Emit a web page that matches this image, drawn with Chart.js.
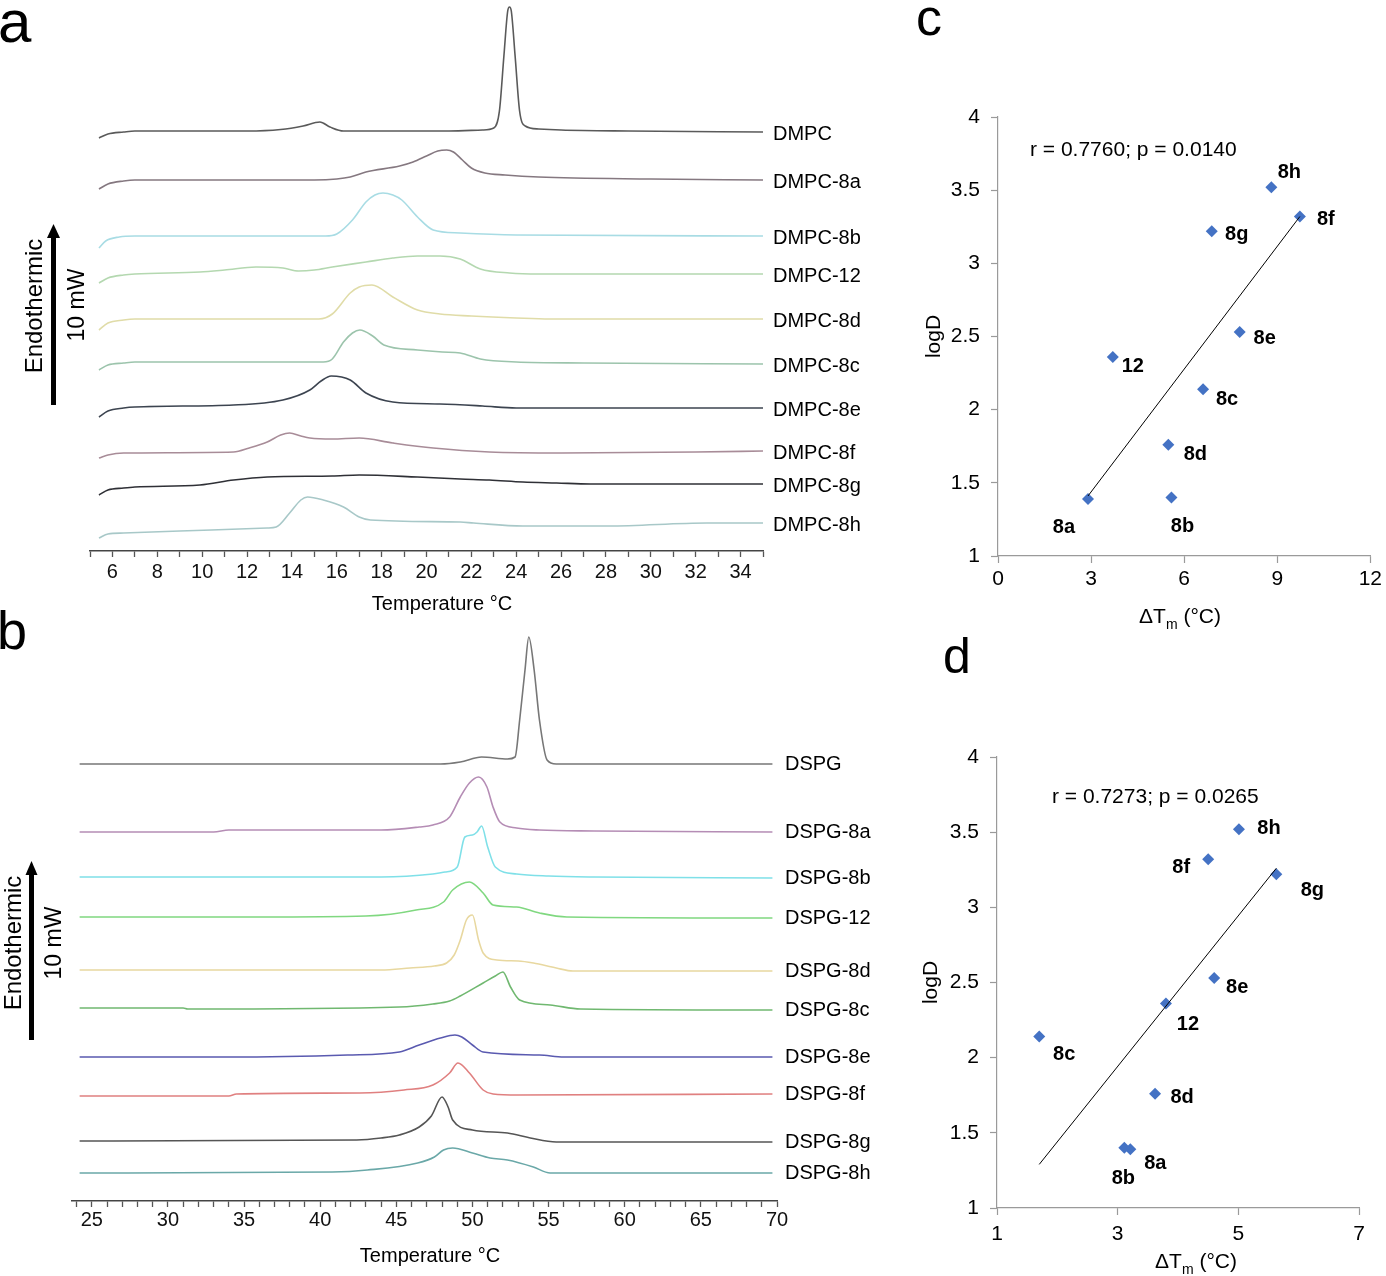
<!DOCTYPE html>
<html>
<head>
<meta charset="utf-8">
<script src="https://cdn.jsdelivr.net/npm/chart.js@4.4.1/dist/chart.umd.min.js"></script>
<style>
  body { margin: 0; background: #fff; width: 1386px; height: 1276px; position: relative; overflow: hidden;
         font-family: "Liberation Sans", Arial, sans-serif; }
  canvas { position: absolute; }
  .t { position: absolute; white-space: nowrap; color: #000; line-height: 1; }
  .c { transform: translate(-50%, -50%); }
  .r { transform: translate(-50%, -50%) rotate(-90deg); }
  .l { transform: translateY(-50%); }
</style>
</head>
<body>
<canvas id="chartA" width="900" height="620" style="left:0;top:0"></canvas>
<canvas id="chartB" width="900" height="640" style="left:0;top:620px"></canvas>
<canvas id="chartC" width="476" height="560" style="left:910px;top:90px"></canvas>
<canvas id="chartD" width="476" height="546" style="left:910px;top:730px"></canvas>

<div class="t" style="left:-2px;top:-8px;font-size:60px">a</div>
<div class="t" style="left:-3px;top:603px;font-size:54px">b</div>
<div class="t" style="left:916px;top:-9px;font-size:52px">c</div>
<div class="t" style="left:943px;top:631px;font-size:50px">d</div>

<svg style="position:absolute;left:0;top:0" width="100" height="1276">
  <line x1="53.5" y1="405" x2="53.5" y2="236" stroke="#000" stroke-width="5"/>
  <polygon points="47,238 60,238 53.5,224" fill="#000"/>
  <line x1="31.5" y1="1040" x2="31.5" y2="873" stroke="#000" stroke-width="5"/>
  <polygon points="25.5,875 37.5,875 31.5,861" fill="#000"/>
</svg>
<div class="t r" style="left:34px;top:306px;font-size:24px">Endothermic</div>
<div class="t r" style="left:76px;top:305px;font-size:23px">10 mW</div>
<div class="t r" style="left:13px;top:943px;font-size:24px">Endothermic</div>
<div class="t r" style="left:53px;top:943px;font-size:23px">10 mW</div>

<div class="t c" style="left:442px;top:603px;font-size:20px">Temperature °C</div>
<div class="t c" style="left:430px;top:1255px;font-size:20px">Temperature °C</div>
<div class="t c" style="left:1180px;top:618px;font-size:21px">ΔT<sub style="font-size:14px">m</sub> (°C)</div>
<div class="t c" style="left:1196px;top:1263px;font-size:21px">ΔT<sub style="font-size:14px">m</sub> (°C)</div>
<div class="t l" style="left:1030px;top:148px;font-size:21px">r = 0.7760; p = 0.0140</div>
<div class="t l" style="left:1052px;top:795px;font-size:21px">r = 0.7273; p = 0.0265</div>

<script>
// ---- panel a: DMPC thermograms, [temperature °C, height above own baseline (px units, 10 mW = 180)]
const dmpcNames = ['DMPC', 'DMPC-8a', 'DMPC-8b', 'DMPC-12', 'DMPC-8d', 'DMPC-8c', 'DMPC-8e', 'DMPC-8f', 'DMPC-8g', 'DMPC-8h'];
const dmpcBaselines = [420, 371, 315, 277, 232, 189, 144, 98, 64, 21];
const dmpcColors = ['#5a5a5a', '#857880', '#a8dce4', '#b4d8b0', '#e0dca8', '#9cc4ac', '#3c4450', '#a88c98', '#2f3036', '#a8c8c8'];
const dmpcTicks = [5, 6, 7, 8, 9, 10, 11, 12, 13, 14, 15, 16, 17, 18, 19, 20, 21, 22, 23, 24, 25, 26, 27, 28, 29, 30, 31, 32, 33, 34, 35];
const dmpcTickLabels = [6, 8, 10, 12, 14, 16, 18, 20, 22, 24, 26, 28, 30, 32, 34];

const dmpc = [[5.4,-7],[5.8,-3],[6.5,-1],[7,0],[12,0],[13.5,1.5],[14.5,5],[15.25,9],[15.7,4],[16.3,0],[21,0],[22.5,1],[23.0,3],[23.25,20],[23.45,75],[23.62,120],[23.7,124],[23.78,120],[23.95,75],[24.15,20],[24.4,5],[25,2],[26,1],[29,0],[35,-1]];
const dmpc8a = [[5.4,-9],[5.8,-4],[6.5,-1],[7,0],[15,0],[16,1],[16.6,3],[17.3,8],[18.8,14],[19.4,18],[20.0,24],[20.5,29],[20.9,30],[21.2,28],[21.6,20],[22.0,12],[22.6,7],[23.5,5],[25,3],[30,1],[35,0]];
const dmpc8b = [[5.4,-12],[5.7,-5],[6.3,-1],[7,0],[15.5,0],[16.0,2],[16.7,16],[17.3,34],[17.7,41],[18.06,43],[18.5,41],[18.9,36],[19.6,19],[20.3,6],[21.5,3],[24,1],[35,0]];
const dmpc12 = [[5.4,-9],[5.8,-4],[6.5,-1],[7,0],[9.9,2],[11,4],[12.4,7],[13.6,6],[14.3,3],[15.0,4],[15.8,7],[17.3,12],[18.5,16],[19.6,18],[20.6,18],[21.5,15],[22.4,5],[23.7,1],[25,0],[35,0]];
const dmpc8d = [[5.4,-11],[5.8,-4],[6.5,-1],[7,0],[15.2,0],[15.8,5],[16.6,26],[17.0,32],[17.57,34],[18.5,22],[19.6,9],[20.6,5],[22,3],[24,1],[25.5,0],[35,0]];
const dmpc8c = [[5.4,-8],[5.8,-3],[6.5,-1],[7,0],[15.4,0],[15.8,3],[16.3,20],[16.7,29],[17.03,32],[17.6,26],[18.1,17],[19.6,12],[20.7,10],[21.5,9],[22.4,3],[24,0],[27,-1],[35,-2]];
const dmpc8e = [[5.4,-10],[5.8,-4],[6.5,-1],[7,0],[11.4,2],[13.6,7],[14.8,17],[15.3,26],[15.75,31],[16.6,27],[17.3,14],[18.5,5],[20.6,3],[22.5,1],[24,-1],[35,-1]];
const dmpc8f = [[5.4,-5],[5.8,-2],[6.5,0],[11.4,1],[12.1,5],[12.9,11],[13.5,18],[13.9,20],[14.4,17],[14.8,15],[15.8,14],[17,15],[18.5,10],[20.3,5],[22.8,1],[26,0],[32,1],[35,2]];
const dmpc8g = [[5.4,-8],[5.8,-3],[6.5,-1],[7,0],[9.9,2],[11.4,7],[12.9,10],[15.8,11],[17,12],[19.6,10],[21.5,8],[22.8,7],[24.3,5],[25.8,4],[27.3,3],[35,3]];
const dmpc8h = [[5.4,-8],[5.8,-4],[6.5,-3],[9,-1],[12.9,2],[13.3,3],[13.9,17],[14.4,30],[14.7,33],[15.4,30],[16.3,23],[17,13],[17.5,10],[21.5,8],[22.1,7],[24.3,4],[28.1,4],[32.5,7],[35,7]];
const dmpcCurves = [dmpc, dmpc8a, dmpc8b, dmpc12, dmpc8d, dmpc8c, dmpc8e, dmpc8f, dmpc8g, dmpc8h];

// ---- panel b: DSPG thermograms
const dspgNames = ['DSPG', 'DSPG-8a', 'DSPG-8b', 'DSPG-12', 'DSPG-8d', 'DSPG-8c', 'DSPG-8e', 'DSPG-8f', 'DSPG-8g', 'DSPG-8h'];
const dspgBaselines = [437, 369, 324, 284, 231, 193, 144, 105, 60, 28];
const dspgColors = ['#777777', '#b58db5', '#7fe0e8', '#80d880', '#e8d8a0', '#70b870', '#5a5ab0', '#e08080', '#555555', '#6aa8a8'];
const dspgTicks = [24, 25, 26, 27, 28, 29, 30, 31, 32, 33, 34, 35, 36, 37, 38, 39, 40, 41, 42, 43, 44, 45, 46, 47,
  48, 49, 50, 51, 52, 53, 54, 55, 56, 57, 58, 59, 60, 61, 62, 63, 64, 65, 66, 67, 68, 69, 70];
const dspgTickLabels = [25, 30, 35, 40, 45, 50, 55, 60, 65, 70];

const dspg = [[24.2,0],[46,0],[47.9,0],[49.2,2],[50.6,7],[52.3,5],[52.8,7],[53.1,44],[53.45,94],[53.7,127],[54.05,94],[54.4,44],[54.9,4],[55.5,0],[69.7,0]];
const dspg8a = [[24.2,0],[33,0],[34,2],[44,2],[46.5,5],[47.4,7],[48.5,15],[49.2,35],[49.8,49],[50.4,55],[50.95,45],[51.35,25],[51.8,10],[52.9,4],[54.4,2],[58,1],[69.7,0]];
const dspg8b = [[24.2,0],[44,0],[47.4,3],[48.2,5],[49,10],[49.5,40],[50.0,42],[50.3,45],[50.6,51],[51.0,30],[51.5,10],[52.9,3],[55,1],[58,0],[69.7,-1]];
const dspg12 = [[24.2,0],[36,0],[43,1],[46.3,7],[48.1,15],[48.7,27],[49.8,35],[50.7,24],[51.35,12],[52.9,10],[54.4,4],[56.2,0],[69.7,-1]];
const dspg8d = [[24.2,0],[44,0],[45.9,2],[47.5,4],[48.3,7],[48.8,15],[49.2,30],[49.6,50],[50.0,55],[50.4,30],[50.7,17],[51.6,10],[53,9],[54,7],[55.5,2],[56.6,-1],[69.7,-1]];
const dspg8c = [[24.2,0],[31,0],[31.3,-1],[45.2,1],[47.4,4],[48.5,7],[49.2,12],[50.7,25],[51.5,32],[52.0,36],[52.5,21],[53.1,8],[55.1,3],[57.1,-1],[69.7,-2]];
const dspg8e = [[24.2,0],[34,0],[41.8,2],[45.2,5],[46.5,12],[47.9,19],[48.85,22],[49.3,20],[50,12],[50.7,5],[54.4,2],[56,0],[69.7,0]];
const dspg8f = [[24.2,0],[34,0],[34.5,2],[42.6,3],[45.5,6],[47.4,11],[48.5,23],[49.05,33],[49.8,23],[50.7,6],[51.35,2],[53,1],[69.7,2]];
const dspg8g = [[24.2,0],[42.4,1],[44,3],[45.2,6],[46.5,14],[47.3,25],[48.0,44],[48.4,34],[48.7,21],[50,11],[52.3,8],[53.8,3],[55.5,-1],[69.7,-1]];
const dspg8h = [[24.2,0],[40.8,1],[43.1,3],[46.4,10],[47.5,16],[48.1,23],[48.7,25],[50,20],[51.15,15],[52.3,13],[54,6],[55.1,0],[69.7,0]];
const dspgCurves = [dspg, dspg8a, dspg8b, dspg12, dspg8d, dspg8c, dspg8e, dspg8f, dspg8g, dspg8h];

// ---- panels c, d: logD vs ΔTm
const compounds = ['8a', '8b', '8c', '8d', '8e', '8f', '8g', '8h', '12'];
const logD = [1.39, 1.40, 2.14, 1.76, 2.53, 3.32, 3.22, 3.52, 2.36];
const dTmDMPC = [2.90, 5.59, 6.61, 5.49, 7.79, 9.73, 6.89, 8.81, 3.70];
const dTmDSPG = [3.21, 3.11, 1.70, 3.62, 4.60, 4.50, 5.63, 5.01, 3.80];
const fitDMPC_x = [2.90, 9.73], fitDMPC_y = [1.41, 3.32];
const fitDSPG_x = [1.70, 5.63], fitDSPG_y = [1.29, 3.26];

// label offsets in px from each diamond (same order as compounds)
const labelOffC = [[-24,29],[11,29],[24,10],[27,10],[25,6],[26,3],[25,3],[18,-15],[20,9]];
const labelOffD = [[25,14],[-1,31],[25,18],[27,4],[23,9],[-27,8],[36,16],[30,-1],[22,21]];

const FONT = "'Liberation Sans', Arial, sans-serif";
Chart.defaults.font.family = FONT;
Chart.defaults.color = '#000';
Chart.defaults.animation = false;

const curveLabels = {
  id: 'curveLabels',
  afterDatasetsDraw(chart, args, opts) {
    const {ctx, chartArea} = chart;
    ctx.save();
    ctx.font = '20px ' + FONT;
    ctx.fillStyle = '#000';
    ctx.textBaseline = 'middle';
    chart.data.datasets.forEach((ds, i) => {
      const last = ds.data[ds.data.length - 1];
      const y = chart.scales.y.getPixelForValue(last.y) + opts.dy;
      ctx.fillText(opts.names[i], chartArea.right + opts.dx, y);
    });
    ctx.restore();
  }
};

const pointLabels = {
  id: 'pointLabels',
  afterDatasetsDraw(chart, args, opts) {
    const {ctx} = chart;
    const meta = chart.getDatasetMeta(1);
    ctx.save();
    ctx.font = 'bold 20px ' + FONT;
    ctx.fillStyle = '#000';
    ctx.textAlign = 'center';
    ctx.textBaseline = 'middle';
    meta.data.forEach((pt, i) => {
      ctx.fillText(opts.names[i], pt.x + opts.offsets[i][0], pt.y + opts.offsets[i][1]);
    });
    ctx.restore();
  }
};

function thermogram(id, names, baselines, colors, curves, xMin, xMax, yMax, tickVals, tickLabels, pad, axisH, tickPad, labelDx, labelDy) {
  const datasets = curves.map((c, i) => ({
    data: c.map(([t, h]) => ({x: t, y: baselines[i] + h})),
    borderColor: colors[i],
    borderWidth: 1.6,
    pointRadius: 0,
    cubicInterpolationMode: 'monotone',
    fill: false
  }));
  return new Chart(document.getElementById(id), {
    type: 'line',
    data: {datasets},
    options: {
      responsive: false,
      layout: {padding: pad},
      plugins: {
        legend: {display: false},
        tooltip: {enabled: false},
        curveLabels: {names, dx: labelDx, dy: labelDy}
      },
      scales: {
        x: {
          type: 'linear', min: xMin, max: xMax, bounds: 'data',
          border: {color: '#444', width: 1.5},
          grid: {drawOnChartArea: false, tickLength: 6, tickColor: '#555', tickWidth: 1.3},
          ticks: {
            autoSkip: false, maxRotation: 0,
            padding: tickPad, font: {size: 20}, color: '#111',
            callback: v => tickLabels.includes(v) ? String(v) : ''
          },
          afterBuildTicks: s => { s.ticks = tickVals.map(v => ({value: v})); },
          afterFit: s => { s.height = axisH; }
        },
        y: {type: 'linear', min: 0, max: yMax, bounds: 'data', display: false}
      }
    },
    plugins: [curveLabels]
  });
}

thermogram('chartA', dmpcNames, dmpcBaselines, dmpcColors, dmpcCurves, 5, 35, 551, dmpcTicks, dmpcTickLabels,
  {left: 90, right: 137, top: 0, bottom: 0}, 69, 3, 10, 2);
thermogram('chartB', dspgNames, dspgBaselines, dspgColors, dspgCurves, 23.7, 70, 581, dspgTicks, dspgTickLabels,
  {left: 72, right: 123, top: 0, bottom: 0}, 59, 1, 8, 0);

function correlation(id, xs, fitX, fitY, xMin, xMax, xStep, offsets, pad, axisW, axisH, xTickPad, titlePad) {
  return new Chart(document.getElementById(id), {
    type: 'scatter',
    data: {
      datasets: [
        {
          type: 'line',
          data: fitX.map((x, i) => ({x, y: fitY[i]})),
          borderColor: '#000', borderWidth: 1, pointRadius: 0, fill: false
        },
        {
          data: xs.map((x, i) => ({x, y: logD[i]})),
          pointStyle: 'rectRot', pointRadius: 6,
          backgroundColor: '#4472c4', borderColor: '#4472c4', borderWidth: 0
        }
      ]
    },
    options: {
      responsive: false,
      layout: {padding: pad},
      plugins: {
        legend: {display: false},
        tooltip: {enabled: false},
        pointLabels: {names: compounds, offsets}
      },
      scales: {
        x: {
          type: 'linear', min: xMin, max: xMax, bounds: 'data',
          border: {color: '#9a9a9a', width: 1.2},
          grid: {drawOnChartArea: false, tickLength: 7, tickColor: '#9a9a9a', tickWidth: 1.2},
          ticks: {stepSize: xStep, padding: xTickPad, font: {size: 21}, maxRotation: 0, callback: v => String(v)},
          afterFit: s => { s.height = axisH; }
        },
        y: {
          type: 'linear', min: 1, max: 4, bounds: 'data',
          border: {color: '#9a9a9a', width: 1.2},
          grid: {drawOnChartArea: false, tickLength: 7, tickColor: '#9a9a9a', tickWidth: 1.2},
          ticks: {stepSize: 0.5, padding: 11, font: {size: 21}, callback: v => String(v)},
          title: {display: true, text: 'logD', font: {size: 21}, padding: {top: titlePad, bottom: 0}},
          afterFit: s => { s.width = axisW; }
        }
      }
    },
    plugins: [pointLabels]
  });
}

correlation('chartC', dTmDMPC, fitDMPC_x, fitDMPC_y, 0, 12, 3, labelOffC,
  {left: 0, right: 12, top: 27, bottom: 0}, 88, 94, 4, 12);
correlation('chartD', dTmDSPG, fitDSPG_x, fitDSPG_y, 1, 7, 2, labelOffD,
  {left: 0, right: 27, top: 27, bottom: 0}, 87, 68, 7, 9);
</script>
</body>
</html>
